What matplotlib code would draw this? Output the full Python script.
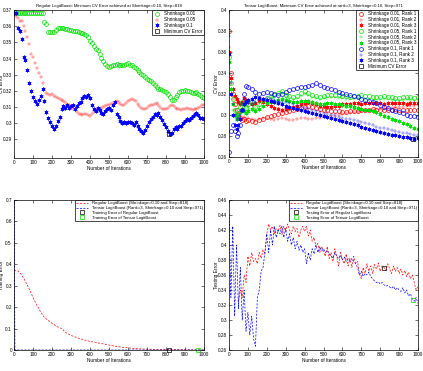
import matplotlib
matplotlib.use("Agg")
import matplotlib.pyplot as plt
from matplotlib.lines import Line2D

plt.rcParams['font.family'] = ['Liberation Sans', 'DejaVu Sans']

# ---------------- Panel 1: Regular LogitBoost CV error ----------------
ITER1 = list(range(0, 1001, 10))
CV_REG_001 = [
    0.368, 0.368, 0.368, 0.368, 0.368, 0.368, 0.368, 0.368, 0.368, 0.368,
    0.368, 0.368, 0.368, 0.368, 0.368, 0.368, 0.3625, 0.3615, 0.3565, 0.3565,
    0.3565, 0.3565, 0.3575, 0.3588, 0.3588, 0.3588, 0.3588, 0.3585, 0.358, 0.3578,
    0.3575, 0.3572, 0.357, 0.357, 0.3565, 0.356, 0.3555, 0.355, 0.3545, 0.353,
    0.351, 0.3495, 0.348, 0.346, 0.345, 0.343, 0.3405, 0.3385, 0.3365, 0.3355,
    0.335, 0.3352, 0.3357, 0.3362, 0.3367, 0.3362, 0.3357, 0.336, 0.3362, 0.3368,
    0.3373, 0.336, 0.3357, 0.335, 0.3341, 0.333, 0.3316, 0.3305, 0.3296, 0.3285,
    0.3276, 0.3268, 0.3259, 0.3248, 0.3235, 0.3225, 0.3214, 0.321, 0.3204, 0.3198,
    0.319, 0.3178, 0.3163, 0.3145, 0.3143, 0.316, 0.3173, 0.319, 0.3198, 0.3202,
    0.3204, 0.320, 0.3198, 0.319, 0.3184, 0.3188, 0.319, 0.3178, 0.3173, 0.316,
    0.3153]
CV_REG_005 = [
    0.367, 0.366, 0.365, 0.3635, 0.363, 0.360, 0.357, 0.353, 0.349, 0.343,
    0.341, 0.3375, 0.334, 0.331, 0.3285, 0.325, 0.321, 0.3185, 0.318, 0.3175,
    0.318, 0.317, 0.3165, 0.3155, 0.315, 0.3145, 0.3135, 0.313, 0.312, 0.311,
    0.3105, 0.309, 0.3085, 0.307, 0.306, 0.3055, 0.305, 0.3055, 0.306, 0.305,
    0.3045, 0.306, 0.307, 0.308, 0.3085, 0.309, 0.3095, 0.310, 0.3105, 0.311,
    0.3115, 0.312, 0.3125, 0.313, 0.3135, 0.313, 0.312, 0.311, 0.3115, 0.3125,
    0.3135, 0.3145, 0.315, 0.3145, 0.3135, 0.312, 0.3105, 0.3095, 0.309, 0.309,
    0.3095, 0.3105, 0.311, 0.3115, 0.312, 0.3125, 0.3115, 0.310, 0.309, 0.3085,
    0.309, 0.3095, 0.3105, 0.311, 0.3105, 0.3095, 0.309, 0.3085, 0.308, 0.3085,
    0.309, 0.3095, 0.309, 0.3085, 0.308, 0.3085, 0.309, 0.3095, 0.310, 0.311,
    0.3115]
CV_REG_01 = [
    0.3684, 0.3684, 0.359, 0.357, 0.352, 0.341, 0.339, 0.333, 0.325, 0.320,
    0.3165, 0.3135, 0.312, 0.3145, 0.317, 0.321, 0.3135, 0.307, 0.3035, 0.301,
    0.2985, 0.2965, 0.2985, 0.3015, 0.304, 0.309, 0.3105, 0.3095, 0.311, 0.3095,
    0.3105, 0.311, 0.309, 0.3105, 0.3125, 0.313, 0.3155, 0.317, 0.3165, 0.3175,
    0.3155, 0.311, 0.3085, 0.3075, 0.3095, 0.308, 0.3065, 0.306, 0.3075, 0.3085,
    0.3095, 0.308, 0.3115, 0.313, 0.306, 0.304, 0.3015, 0.300, 0.3005, 0.300,
    0.3005, 0.301, 0.300, 0.299, 0.3005, 0.2985, 0.2965, 0.2955, 0.294, 0.296,
    0.2985, 0.3005, 0.3025, 0.304, 0.3055, 0.305, 0.3065, 0.304, 0.302, 0.2995,
    0.2975, 0.2955, 0.2935, 0.294, 0.2965, 0.2975, 0.2965, 0.298, 0.2985, 0.300,
    0.3015, 0.3025, 0.302, 0.3035, 0.3045, 0.3055, 0.3065, 0.305, 0.303, 0.3035,
    0.3025]
MIN_REG_STEP, MIN_REG_CV = 818, 0.2935

# ---------------- Panel 2: Tensor LogitBoost CV error ----------------
ITER2 = [1, 10, 20, 30, 40, 50, 60, 70, 80, 90, 100] + list(range(120, 1001, 20))
CV_T_001_R1 = [0.38, 0.34, 0.32, 0.31, 0.305, 0.30, 0.297, 0.295, 0.296, 0.294, 0.295,
    0.294, 0.293, 0.295, 0.296, 0.298, 0.299, 0.30, 0.301, 0.302, 0.303,
    0.304, 0.305, 0.306, 0.307, 0.308, 0.309, 0.308, 0.307, 0.306, 0.305,
    0.3045, 0.304, 0.304, 0.3035, 0.303, 0.303, 0.3035, 0.304, 0.304, 0.3045,
    0.305, 0.305, 0.3055, 0.305, 0.305, 0.3045, 0.305, 0.305, 0.3055, 0.305,
    0.305, 0.3045, 0.305, 0.305, 0.305]
CV_T_001_R2 = [0.365, 0.33, 0.315, 0.305, 0.30, 0.298, 0.296, 0.297, 0.298, 0.296, 0.297,
    0.296, 0.295, 0.296, 0.297, 0.297, 0.296, 0.295, 0.296, 0.297, 0.296,
    0.295, 0.295, 0.296, 0.297, 0.297, 0.296, 0.296, 0.297, 0.297, 0.298,
    0.298, 0.299, 0.30, 0.300, 0.301, 0.302, 0.302, 0.303, 0.303, 0.304,
    0.304, 0.305, 0.305, 0.306, 0.306, 0.307, 0.307, 0.307, 0.308, 0.308,
    0.308, 0.3085, 0.309, 0.309, 0.3095]
CV_T_001_R3 = [0.36, 0.335, 0.325, 0.318, 0.315, 0.312, 0.31, 0.312, 0.316, 0.314, 0.312,
    0.31, 0.311, 0.313, 0.312, 0.31, 0.309, 0.307, 0.306, 0.305, 0.306,
    0.307, 0.308, 0.309, 0.310, 0.311, 0.312, 0.311, 0.31, 0.309, 0.309,
    0.308, 0.308, 0.309, 0.309, 0.31, 0.31, 0.3105, 0.311, 0.311, 0.3105,
    0.311, 0.311, 0.3115, 0.311, 0.311, 0.3105, 0.311, 0.311, 0.3115, 0.311,
    0.311, 0.3105, 0.311, 0.311, 0.3115]
CV_T_005_R1 = [0.355, 0.33, 0.315, 0.305, 0.30, 0.302, 0.308, 0.312, 0.31, 0.307, 0.31,
    0.312, 0.308, 0.31, 0.314, 0.316, 0.318, 0.319, 0.321, 0.323, 0.319,
    0.318, 0.317, 0.318, 0.321, 0.323, 0.321, 0.319, 0.318, 0.3175, 0.3185,
    0.319, 0.3195, 0.3195, 0.319, 0.3185, 0.318, 0.3175, 0.318, 0.3185, 0.319,
    0.3185, 0.318, 0.3175, 0.317, 0.3175, 0.318, 0.3175, 0.317, 0.3165, 0.3165,
    0.317, 0.3175, 0.317, 0.3165, 0.3175]
CV_T_005_R2 = [0.345, 0.32, 0.305, 0.298, 0.296, 0.30, 0.305, 0.31, 0.309, 0.306, 0.308,
    0.31, 0.307, 0.309, 0.312, 0.314, 0.316, 0.317, 0.319, 0.321, 0.318,
    0.316, 0.315, 0.316, 0.318, 0.320, 0.319, 0.317, 0.316, 0.3155, 0.316,
    0.3165, 0.317, 0.317, 0.3165, 0.316, 0.3155, 0.315, 0.3155, 0.316, 0.316,
    0.3155, 0.315, 0.3145, 0.3145, 0.315, 0.3155, 0.315, 0.3145, 0.314, 0.314,
    0.3145, 0.315, 0.3145, 0.314, 0.3145]
CV_T_005_R3 = [0.35, 0.325, 0.31, 0.30, 0.296, 0.298, 0.303, 0.306, 0.304, 0.302, 0.304,
    0.306, 0.304, 0.306, 0.309, 0.311, 0.312, 0.313, 0.314, 0.315, 0.314,
    0.313, 0.3125, 0.312, 0.313, 0.3135, 0.313, 0.312, 0.311, 0.3105, 0.31,
    0.3115, 0.311, 0.3105, 0.31, 0.3095, 0.309, 0.3085, 0.308, 0.307, 0.306,
    0.3052, 0.3045, 0.3035, 0.3025, 0.301, 0.2995, 0.298, 0.2965, 0.295, 0.294,
    0.2925, 0.291, 0.2895, 0.288, 0.287]
CV_T_01_R1 = [0.265, 0.285, 0.29, 0.285, 0.28, 0.283, 0.29, 0.305, 0.32, 0.328, 0.327,
    0.325, 0.322, 0.32, 0.321, 0.322, 0.321, 0.32, 0.319, 0.32, 0.322,
    0.324, 0.325, 0.326, 0.327, 0.327, 0.328, 0.329, 0.33, 0.329, 0.327,
    0.326, 0.325, 0.3235, 0.322, 0.321, 0.32, 0.319, 0.318, 0.317, 0.3155,
    0.3145, 0.313, 0.312, 0.311, 0.3095, 0.308, 0.3065, 0.305, 0.304, 0.303,
    0.3015, 0.3, 0.2995, 0.299, 0.298]
CV_T_01_R2 = [0.375, 0.33, 0.31, 0.30, 0.295, 0.297, 0.30, 0.31, 0.315, 0.313, 0.31,
    0.31, 0.312, 0.314, 0.315, 0.316, 0.315, 0.314, 0.313, 0.312, 0.312,
    0.311, 0.31, 0.309, 0.308, 0.307, 0.306, 0.305, 0.304, 0.303, 0.302,
    0.301, 0.3, 0.299, 0.298, 0.297, 0.2965, 0.296, 0.295, 0.294, 0.293,
    0.292, 0.291, 0.29, 0.289, 0.288, 0.2875, 0.287, 0.286, 0.285, 0.284,
    0.283, 0.2825, 0.282, 0.281, 0.2805]
CV_T_01_R3 = [0.358, 0.32, 0.30, 0.29, 0.287, 0.29, 0.296, 0.305, 0.31, 0.312, 0.314,
    0.315, 0.317, 0.316, 0.315, 0.314, 0.313, 0.312, 0.311, 0.31, 0.309,
    0.308, 0.307, 0.306, 0.305, 0.304, 0.303, 0.302, 0.301, 0.300, 0.299,
    0.298, 0.297, 0.296, 0.295, 0.294, 0.293, 0.292, 0.291, 0.29, 0.289,
    0.288, 0.287, 0.286, 0.285, 0.284, 0.283, 0.282, 0.281, 0.2805, 0.28,
    0.2795, 0.279, 0.278, 0.2775, 0.278]
MIN_T_STEP, MIN_T_CV = 971, 0.2776

# ---------------- Panel 3: Training error ----------------
ITER3_REG = [0, 10, 20, 30, 40, 50, 60, 80, 100, 120, 140, 160, 180, 200, 225, 250,
             275, 300, 350, 400, 450, 500, 550, 600, 650, 700, 750, 800, 850, 900, 950, 1000]
TRAIN_REG = [0.37, 0.37, 0.369, 0.362, 0.35, 0.336, 0.32, 0.285, 0.245, 0.21, 0.178,
             0.152, 0.138, 0.125, 0.11, 0.1, 0.08, 0.068, 0.052, 0.04, 0.032, 0.023,
             0.015, 0.01, 0.006, 0.004, 0.003, 0.002, 0.0015, 0.001, 0.0005, 0.0]
ITER3_TEN = [1, 3, 5, 1000]
TRAIN_TEN = [0.75, 0.3, 0.0, 0.0]
TRAIN_MIN_REG = (818, 0.002)
TRAIN_MIN_TEN = (971, 0.0)

# ---------------- Panel 4: Testing error ----------------
ITER4_REG = list(range(50, 1001, 10))
TEST_REG = [0.325, 0.34, 0.33, 0.36, 0.35,
    0.385, 0.372, 0.39, 0.378, 0.382, 0.375, 0.39, 0.382, 0.394, 0.388,
    0.415, 0.428, 0.42, 0.425, 0.415, 0.422, 0.418, 0.426, 0.414, 0.425,
    0.418, 0.428, 0.42, 0.415, 0.425, 0.418, 0.422, 0.41, 0.42, 0.425,
    0.418, 0.425, 0.412, 0.42, 0.405, 0.41, 0.398, 0.402, 0.39, 0.398,
    0.392, 0.385, 0.398, 0.382, 0.39, 0.378, 0.395, 0.385, 0.372, 0.39,
    0.38, 0.375, 0.388, 0.372, 0.382, 0.37, 0.385, 0.375, 0.378, 0.362,
    0.355, 0.37, 0.362, 0.375, 0.365, 0.372, 0.362, 0.374, 0.368, 0.376,
    0.365, 0.372, 0.37, 0.366, 0.375, 0.368, 0.362, 0.372, 0.365, 0.37,
    0.362, 0.368, 0.36, 0.366, 0.358, 0.364, 0.355, 0.36, 0.35, 0.34,
    0.345]
ITER4_TEN = list(range(0, 1001, 10))
TEST_TEN = [0.442, 0.33, 0.425, 0.305, 0.40, 0.315, 0.37, 0.30, 0.34, 0.285,
    0.31, 0.28, 0.305, 0.275, 0.265, 0.33, 0.34, 0.365, 0.37, 0.39,
    0.415, 0.39, 0.42, 0.40, 0.425, 0.41, 0.42, 0.415, 0.425, 0.41,
    0.422, 0.405, 0.415, 0.40, 0.41, 0.395, 0.405, 0.393, 0.40, 0.39,
    0.395, 0.375, 0.39, 0.38, 0.395, 0.388, 0.40, 0.39, 0.398, 0.392,
    0.395, 0.39, 0.393, 0.388, 0.385, 0.382, 0.39, 0.385, 0.382, 0.386,
    0.38, 0.384, 0.378, 0.382, 0.378, 0.382, 0.378, 0.375, 0.37, 0.36,
    0.365, 0.358, 0.362, 0.36, 0.364, 0.358, 0.355, 0.352, 0.35, 0.351,
    0.348, 0.35, 0.347, 0.345, 0.346, 0.344, 0.342, 0.345, 0.34, 0.343,
    0.34, 0.338, 0.343, 0.336, 0.34, 0.332, 0.335, 0.328, 0.325, 0.33,
    0.322]
TEST_MIN_REG = (818, 0.370)
TEST_MIN_TEN = (971, 0.327)

FS = 3.4
FS_TITLE = 3.1
FS_LEG_TOP = 3.3
FS_LEG_BOT = 3.05
RED, GREEN, BLUE = '#ff0000', '#00dd00', '#0000ff'
AST = (6, 2, 0)

fig = plt.figure(figsize=(4.23, 3.71), dpi=100)
W, H = 423.0, 371.0

def make_ax(x0, y0, x1, y1):
    ax = fig.add_axes([x0 / W, 1 - y1 / H, (x1 - x0) / W, (y1 - y0) / H])
    ax.tick_params(direction='in', top=True, right=True, length=2, width=0.4,
                   labelsize=FS, pad=1.5)
    for s in ax.spines.values():
        s.set_linewidth(0.5)
    return ax

def finish(ax, ylabel):
    ax.set_xlim(0, 1000)
    ax.set_xticks(range(0, 1001, 100))
    ax.set_xlabel('Number of Iterations', fontsize=FS, labelpad=1)
    ax.set_ylabel(ylabel, fontsize=FS)
    ax.yaxis.set_label_coords(-0.052, 0.5)

def legend(ax, handles, fs, hl):
    lg = ax.legend(handles=handles, loc='upper right', fontsize=fs, borderaxespad=0,
                   fancybox=False, framealpha=1, edgecolor='black', borderpad=0.3,
                   labelspacing=0.18, handletextpad=0.8, handlelength=hl)
    lg.get_frame().set_linewidth(0.5)

def mk_style(col, mk):
    if mk == 'o':
        return dict(marker='o', ms=2.8, mfc='none', mec=col, mew=0.5)
    if mk == '+':
        return dict(marker='+', ms=2.2, color=col, mew=0.35, alpha=0.7)
    return dict(marker=AST, ms=2.8, color=col, mew=0.5)

SQ = dict(marker='s', ms=2.5, mfc='none', mew=0.5)

# Panel 1
ax1 = make_ax(14, 10, 204, 158)
series1 = [
    (CV_REG_001, GREEN, 'o', 'Shrinkage 0.01'),
    (CV_REG_005, RED, '+', 'Shrinkage 0.05'),
    (CV_REG_01, BLUE, '*', 'Shrinkage 0.1'),
]
h1 = []
for vals, col, mk, lab in series1:
    st = mk_style(col, mk)
    ax1.plot(ITER1, vals, ls='none', **st)
    h1.append(Line2D([], [], ls='none', label=lab, **st))
ax1.plot([MIN_REG_STEP], [MIN_REG_CV], ls='none', mec='black', **SQ)
h1.append(Line2D([], [], ls='none', mec='black', label='Minimum CV Error', **SQ))
ax1.set_ylim(0.2785, 0.37)
ax1.set_yticks([0.29, 0.30, 0.31, 0.32, 0.33, 0.34, 0.35, 0.36, 0.37])
ax1.set_yticklabels(['0.29', '0.3', '0.31', '0.32', '0.33', '0.34', '0.35', '0.36', '0.37'])
finish(ax1, 'CV Error')
ax1.set_title('Regular LogitBoost: Minimum CV Error achieved at Shrinkage=0.10, Step=818',
              fontsize=FS_TITLE, pad=2)
legend(ax1, h1, FS_LEG_TOP, 1.6)

# Panel 2
ax2 = make_ax(229, 10, 418, 157)
series2 = [
    (CV_T_001_R1, RED, 'o', 'Shrinkage 0.01, Rank 1'),
    (CV_T_001_R2, RED, '+', 'Shrinkage 0.01, Rank 2'),
    (CV_T_001_R3, RED, '*', 'Shrinkage 0.01, Rank 3'),
    (CV_T_005_R1, GREEN, 'o', 'Shrinkage 0.05, Rank 1'),
    (CV_T_005_R2, GREEN, '+', 'Shrinkage 0.05, Rank 2'),
    (CV_T_005_R3, GREEN, '*', 'Shrinkage 0.05, Rank 3'),
    (CV_T_01_R1, BLUE, 'o', 'Shrinkage 0.1, Rank 1'),
    (CV_T_01_R2, BLUE, '+', 'Shrinkage 0.1, Rank 2'),
    (CV_T_01_R3, BLUE, '*', 'Shrinkage 0.1, Rank 3'),
]
h2 = []
for vals, col, mk, lab in series2:
    st = mk_style(col, mk)
    ax2.plot(ITER2, vals, ls='none', **st)
    h2.append(Line2D([], [], ls='none', label=lab, **st))
ax2.plot([MIN_T_STEP], [MIN_T_CV], ls='none', mec='black', **SQ)
h2.append(Line2D([], [], ls='none', mec='black', label='Minimum CV Error', **SQ))
ax2.set_ylim(0.26, 0.40)
ax2.set_yticks([0.26, 0.28, 0.30, 0.32, 0.34, 0.36, 0.38, 0.40])
ax2.set_yticklabels(['0.26', '0.28', '0.3', '0.32', '0.34', '0.36', '0.38', '0.4'])
finish(ax2, 'CV Error')
ax2.set_title('Tensor LogitBoost: Minimum CV Error achieved at rank=3, Shrinkage=0.10, Step=971',
              fontsize=FS_TITLE, pad=2)
legend(ax2, h2, FS_LEG_TOP, 1.6)

DASH = dict(ls='--', lw=0.5, dashes=(3, 2))

# Panel 3
ax3 = make_ax(14, 200, 204, 350)
ax3.plot(ITER3_REG, TRAIN_REG, color=RED, **DASH)
ax3.plot(ITER3_TEN, TRAIN_TEN, color=BLUE, **DASH)
ax3.plot([TRAIN_MIN_REG[0]], [TRAIN_MIN_REG[1]], ls='none', mec='black', clip_on=False, **SQ)
ax3.plot([TRAIN_MIN_TEN[0]], [TRAIN_MIN_TEN[1]], ls='none', mec=GREEN, clip_on=False, **SQ)
ax3.set_ylim(0, 0.7)
ax3.set_yticks([0, 0.1, 0.2, 0.3, 0.4, 0.5, 0.6, 0.7])
ax3.set_yticklabels(['0', '0.1', '0.2', '0.3', '0.4', '0.5', '0.6', '0.7'])
finish(ax3, 'Training Error')
legend(ax3, [
    Line2D([], [], color=RED, label='Regular LogitBoost (Shrinkage=0.10 and Step=818)', **DASH),
    Line2D([], [], color=BLUE, label='Tensor LogitBoost (Rank=3, Shrinkage=0.10 and Step=971)', **DASH),
    Line2D([], [], ls='none', mec='black', label='Training Error of Regular LogitBoost', **SQ),
    Line2D([], [], ls='none', mec=GREEN, label='Training Error of Tensor LogitBoost', **SQ),
], FS_LEG_BOT, 2.9)

# Panel 4
ax4 = make_ax(229, 200, 418, 350)
ax4.plot(ITER4_REG, TEST_REG, color=RED, **DASH)
ax4.plot(ITER4_TEN, TEST_TEN, color=BLUE, **DASH)
ax4.plot([TEST_MIN_REG[0]], [TEST_MIN_REG[1]], ls='none', mec='black', **SQ)
ax4.plot([TEST_MIN_TEN[0]], [TEST_MIN_TEN[1]], ls='none', mec=GREEN, **SQ)
ax4.set_ylim(0.26, 0.46)
ax4.set_yticks([0.26, 0.28, 0.30, 0.32, 0.34, 0.36, 0.38, 0.40, 0.42, 0.44, 0.46])
ax4.set_yticklabels(['0.26', '0.28', '0.3', '0.32', '0.34', '0.36', '0.38', '0.4', '0.42', '0.44', '0.46'])
finish(ax4, 'Testing Error')
legend(ax4, [
    Line2D([], [], color=RED, label='Regular LogitBoost (Shrinkage=0.10 and Step=818)', **DASH),
    Line2D([], [], color=BLUE, label='Tensor LogitBoost (Rank=3, Shrinkage=0.10 and Step=971)', **DASH),
    Line2D([], [], ls='none', mec='black', label='Testing Error of Regular LogitBoost', **SQ),
    Line2D([], [], ls='none', mec=GREEN, label='Testing Error of Tensor LogitBoost', **SQ),
], FS_LEG_BOT, 2.9)

fig.savefig('out.png', dpi=100)
